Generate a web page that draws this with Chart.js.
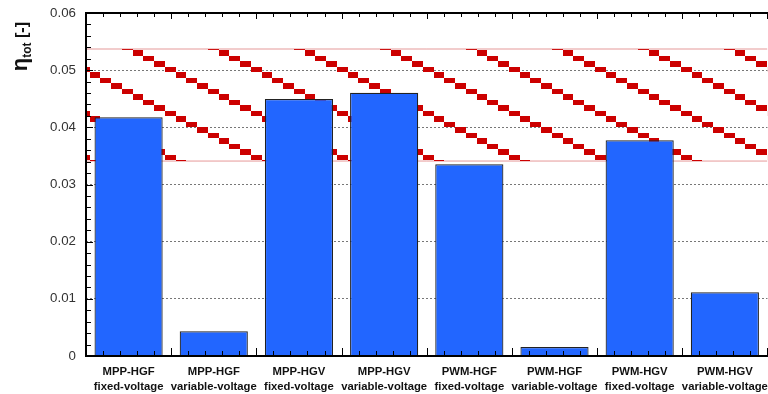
<!DOCTYPE html>
<html>
<head>
<meta charset="utf-8">
<script src="https://cdn.jsdelivr.net/npm/chart.js@4"></script>
<style>
  html, body { margin: 0; padding: 0; overflow: hidden; background: #fff; }
  canvas { display: block; }
</style>
</head>
<body>
<canvas id="etaChart" width="776" height="394"></canvas>
<script>
// categories (two-line labels) and total efficiency per configuration
const categories = [
  ['MPP-HGF', 'fixed-voltage'], ['MPP-HGF', 'variable-voltage'],
  ['MPP-HGV', 'fixed-voltage'], ['MPP-HGV', 'variable-voltage'],
  ['PWM-HGF', 'fixed-voltage'], ['PWM-HGF', 'variable-voltage'],
  ['PWM-HGV', 'fixed-voltage'], ['PWM-HGV', 'variable-voltage']
];
const etaTot = [0.04175, 0.00432, 0.04495, 0.04606, 0.03353, 0.00157, 0.03773, 0.01114];
// hatched reference band (lower, upper)
const bandLimits = [0.0341, 0.0537];
const yTicks = [0, 0.01, 0.02, 0.03, 0.04, 0.05, 0.06];

Chart.defaults.font.family = "'Liberation Sans', Arial, sans-serif";

// red stair-step diagonal hatch
function makeHatch() {
  let t = document.createElement('canvas');
  t.width = 86; t.height = 44;
  let g = t.getContext('2d');
  g.fillStyle = '#cc0000';
  for (let dy of [-44, 0, 44]) {
    for (let i = -10; i <= 10; i++) {
      let x = 35.95 + 10.75 * i, y = 0.5 + 5.5 * i + dy;
      let x1 = Math.round(x), x2 = Math.round(x + 10.75);
      let y1 = Math.round(y), y2 = Math.round(y + 5.5);
      g.fillRect(x1, y1, x2 - x1, y2 - y1);
    }
  }
  return g.createPattern(t, 'repeat');
}

// axis frame, inward ticks and the y title
const framePlugin = {
  id: 'frame',
  afterDraw(chart) {
    let ctx = chart.ctx, a = chart.chartArea;
    let xs = chart.scales.x, ys = chart.scales.y;
    let step = xs.getPixelForValue(1) - xs.getPixelForValue(0);
    ctx.save();
    ctx.strokeStyle = '#000';
    ctx.lineWidth = 1;
    ctx.beginPath();
    // y ticks (minor every 0.002)
    for (let k = 0; k <= 30; k++) {
      let py = Math.round(ys.getPixelForValue(k * 0.002)) + 0.5;
      let len = k % 5 === 0 ? 7 : 5;
      ctx.moveTo(a.left, py); ctx.lineTo(a.left + len, py);
    }
    // x ticks, top and bottom
    for (let c = 0; c < categories.length + 1; c++) {
      for (let m = 0; m < 5; m++) {
        let px = Math.round(xs.getPixelForValue(c) - step / 2 + m * step / 5) + 0.5;
        let major = m === 0;
        ctx.moveTo(px, a.bottom); ctx.lineTo(px, a.bottom - (major ? 8 : 5));
        ctx.moveTo(px, a.top); ctx.lineTo(px, a.top + (major ? 6 : 4));
      }
    }
    ctx.stroke();
    ctx.lineWidth = 2;
    ctx.beginPath();
    ctx.moveTo(a.left, a.top); ctx.lineTo(a.right + 10, a.top);
    ctx.moveTo(a.left, a.top - 1); ctx.lineTo(a.left, a.bottom + 1);
    ctx.moveTo(a.left - 1, a.bottom); ctx.lineTo(a.right + 10, a.bottom);
    ctx.stroke();

    // y title: eta_tot [-]
    let mid = (ys.getPixelForValue(0.06) + ys.getPixelForValue(0.05)) / 2 + 5;
    ctx.fillStyle = '#111';
    ctx.translate(28, mid);
    ctx.rotate(-Math.PI / 2);
    let f1 = "bold 22px 'Liberation Sans', Arial, sans-serif";
    let f2 = "bold 12px 'Liberation Sans', Arial, sans-serif";
    let f3 = "bold 16px 'Liberation Sans', Arial, sans-serif";
    ctx.font = f1; let w1 = ctx.measureText('η').width;
    ctx.font = f2; let w2 = ctx.measureText('tot').width;
    ctx.font = f3; let w3 = ctx.measureText(' [-]').width;
    let x0 = -(w1 + w2 + w3) / 2;
    ctx.textBaseline = 'alphabetic';
    ctx.font = f1; ctx.fillText('η', x0, -1);
    ctx.font = f2; ctx.fillText('tot', x0 + w1, 3);
    ctx.font = f3; ctx.fillText(' [-]', x0 + w1 + w2, -1);
    ctx.restore();
  }
};

let ctxEta = document.getElementById('etaChart').getContext('2d');
let hatch = makeHatch();
let etaChart = new Chart(ctxEta, {
  type: 'bar',
  data: {
    labels: categories,
    datasets: [
      {
        type: 'line', xAxisID: 'xb', order: 2,
        data: [{x: 0, y: bandLimits[1]}, {x: 1, y: bandLimits[1]}],
        borderColor: 'rgba(210, 70, 70, 0.55)', borderWidth: 1,
        pointRadius: 0, fill: '+1', backgroundColor: hatch
      },
      {
        type: 'line', xAxisID: 'xb', order: 2,
        data: [{x: 0, y: bandLimits[0]}, {x: 1, y: bandLimits[0]}],
        borderColor: 'rgba(210, 70, 70, 0.55)', borderWidth: 1,
        pointRadius: 0, fill: false
      },
      {
        data: etaTot, order: 1,
        grouped: false,
        backgroundColor: '#2266ff',
        borderColor: '#222',
        borderWidth: 1.2,
        barPercentage: 0.8,
        categoryPercentage: 1.0
      }
    ]
  },
  options: {
    responsive: false,
    animation: false,
    layout: { padding: { top: 13, right: 2, left: 0, bottom: 0 } },
    plugins: { legend: { display: false }, tooltip: { enabled: false } },
    scales: {
      x: {
        grid: { display: false, drawTicks: false },
        border: { display: false },
        ticks: {
          color: '#111', maxRotation: 0, autoSkip: false, padding: 8,
          font: { weight: 'bold', size: 11.3, lineHeight: 1.35 }
        },
        afterFit: s => { s.height = 38; }
      },
      xb: { type: 'linear', display: false, min: 0, max: 1, offset: false },
      y: {
        min: 0, max: 0.06,
        afterBuildTicks: s => { s.ticks = yTicks.map(v => ({ value: v })); },
        grid: {
          drawTicks: false,
          color: c => (c.tick && (c.tick.value === 0 || c.tick.value === 0.06)) ? 'rgba(0,0,0,0)' : '#777'
        },
        border: { display: false, dash: [2, 2] },
        ticks: {
          color: '#333', padding: 10,
          font: { size: 13.3 },
          callback: v => v === 0 ? '0' : v.toFixed(2)
        },
        afterFit: s => { s.width = 86; s.paddingTop = 0; s.paddingBottom = 0; }
      }
    }
  },
  plugins: [framePlugin]
});
</script>
</body>
</html>
